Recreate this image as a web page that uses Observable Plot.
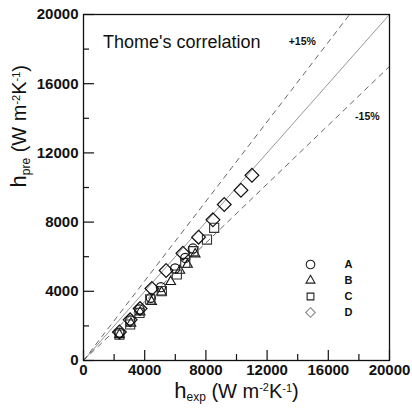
<!DOCTYPE html>
<html>
<head>
<meta charset="utf-8">
<script src="https://cdn.jsdelivr.net/npm/d3@7"></script>
<script src="https://cdn.jsdelivr.net/npm/@observablehq/plot@0.6"></script>
<style>
  body { margin: 0; background: #fff; }
  #wrap { position: relative; width: 412px; height: 412px; font-family: "Liberation Sans", Arial, sans-serif; }
  #legend { position: absolute; left: 302px; top: 253px; }
</style>
</head>
<body>
<div id="wrap"><div id="main"></div><div id="legend"></div></div>
<script>
// ---- data ----
const seriesNames = ["A", "B", "C", "D"];
const aX = [2350, 3050, 3660, 4400, 5060, 5990, 6650, 7150];
const aY = [1600, 2310, 2950, 3620, 4240, 5320, 5930, 6470];
const bX = [2350, 3100, 3700, 4450, 5100, 5700, 6300, 6800, 7300];
const bY = [1500, 2150, 2800, 3400, 3950, 4550, 5200, 5550, 6150];
const cX = [2350, 3050, 3660, 4360, 5120, 6100, 6650, 7190, 8070, 8540];
const cY = [1500, 2080, 2750, 3530, 4010, 4970, 5640, 6320, 6990, 7670];
const dX = [2350, 3050, 3700, 4470, 5400, 6500, 7520, 8460, 9200, 10290, 11010];
const dY = [1650, 2350, 3000, 4160, 5200, 6200, 7130, 8130, 9020, 9840, 10710];
const xTicks = [0, 4000, 8000, 12000, 16000, 20000];
const minorTicks = [2000, 6000, 10000, 14000, 18000];
const refLines = [
  { name: "1:1", x: [0, 20000], y: [0, 20000] },
  { name: "+15%", x: [0, 20000 / 1.15], y: [0, 20000] },
  { name: "-15%", x: [0, 20000], y: [0, 17000] }
];
const annX = [14300, 18550];
const annY = [18420, 14070];
const annText = ["+15%", "-15%"];
const titleText = "Thome's correlation";
const titleX = 1280, titleY = 18380;

// ---- build ----
const mk = (xs, ys) => xs.map((x, i) => ({ x, y: ys[i] }));
const A = mk(aX, aY), B = mk(bX, bY), C = mk(cX, cY), D = mk(dX, dY);
const line = (l) => l.x.map((x, i) => ({ x, y: l.y[i] }));
const ann = annText.map((t, i) => ({ t, x: annX[i], y: annY[i] }));

const W = 412, H = 412, mL = 83, mR = 23, mT = 14, mB = 52;
const fw = W - mL - mR, fh = H - mT - mB;
const font = "Liberation Sans, Arial, sans-serif";

const plot = Plot.plot({
  width: W, height: H,
  marginLeft: mL, marginRight: mR, marginTop: mT, marginBottom: mB,
  style: { fontFamily: font, background: "#fff", color: "#111" },
  x: { domain: [0, 20000] },
  y: { domain: [0, 20000] },
  marks: [
    Plot.line(line(refLines[0]), { x: "x", y: "y", stroke: "#8a8a8a", strokeWidth: 0.9 }),
    Plot.line(line(refLines[1]), { x: "x", y: "y", stroke: "#555", strokeWidth: 0.9, strokeDasharray: "5,5" }),
    Plot.line(line(refLines[2]), { x: "x", y: "y", stroke: "#555", strokeWidth: 0.9, strokeDasharray: "5,5" }),
    Plot.tickX(xTicks, { x: d => d, stroke: "#111", strokeWidth: 1.2, insetTop: fh - 10 }),
    Plot.tickX(minorTicks, { x: d => d, stroke: "#111", strokeWidth: 1.2, insetTop: fh - 6 }),
    Plot.tickY(xTicks, { y: d => d, stroke: "#111", strokeWidth: 1.2, insetRight: fw - 11 }),
    Plot.tickY(minorTicks, { y: d => d, stroke: "#111", strokeWidth: 1.2, insetRight: fw - 6 }),
    Plot.axisX({ ticks: xTicks, tickSize: 0, tickPadding: 4, fontSize: 15, fontWeight: "bold", tickFormat: d => String(d), label: null }),
    Plot.axisY({ ticks: xTicks, tickSize: 0, tickPadding: 5, fontSize: 15, fontWeight: "bold", tickFormat: d => String(d), label: null }),
    Plot.dot(A, { x: "x", y: "y", symbol: "circle", r: 4.6, stroke: "#111", strokeWidth: 1.2, fill: "none" }),
    Plot.dot(B, { x: "x", y: "y", symbol: "triangle2", r: 4.6, stroke: "#111", strokeWidth: 1.1, fill: "none" }),
    Plot.dot(C, { x: "x", y: "y", symbol: "square2", r: 5.8, stroke: "#333", strokeWidth: 1.1, fill: "none" }),
    Plot.dot(D, { x: "x", y: "y", symbol: "diamond2", r: 6.2, stroke: "#111", strokeWidth: 1.2, fill: "none" }),
    Plot.text(ann, { x: "x", y: "y", text: "t", fontSize: 10.5, fontWeight: "bold", fill: "#111" }),
    Plot.text([titleText], { x: () => titleX, y: () => titleY, text: d => d, textAnchor: "start", fontSize: 18, fill: "#111" }),
    Plot.text(["xt"], { frameAnchor: "bottom", dy: 37, text: d => d, fontSize: 20, className: "xtitle" }),
    Plot.text(["yt"], { frameAnchor: "left", dx: -64, rotate: -90, text: d => d, fontSize: 20, className: "ytitle" }),
    Plot.frame({ stroke: "#111", strokeWidth: 1.3 })
  ]
});
document.getElementById("main").appendChild(plot);

// axis titles with sub/superscripts
function richTitle(sel, sub) {
  const t = d3.select(plot).select(sel + " text");
  t.text(null).attr("fill", "#111");
  t.append("tspan").attr("font-size", 22).text("h");
  t.append("tspan").attr("font-size", 12).attr("dy", "0.3em").text(sub);
  t.append("tspan").attr("font-size", 20).attr("dy", "-0.18em").text(" (W m");
  t.append("tspan").attr("font-size", 11).attr("dy", "-0.55em").text("-2");
  t.append("tspan").attr("font-size", 20).attr("dy", "0.32em").text("K");
  t.append("tspan").attr("font-size", 11).attr("dy", "-0.55em").text("-1");
  t.append("tspan").attr("font-size", 20).attr("dy", "0.32em").text(")");
}
richTitle(".xtitle", "exp");
richTitle(".ytitle", "pre");

// legend
const legend = Plot.plot({
  width: 70, height: 70, margin: 0,
  style: { fontFamily: font, background: "transparent" },
  x: { type: "point", domain: ["sym", "lab"], range: [8, 46], padding: 0, axis: null },
  y: { type: "point", domain: seriesNames, range: [10, 60], padding: 0, axis: null },
  symbol: { domain: seriesNames, range: ["circle", "triangle2", "square2", "diamond2"] },
  marks: [
    Plot.dot(seriesNames, { x: () => "sym", y: d => d, symbol: d => d, r: 4.3, stroke: d => d === "D" ? "#888" : "#222", strokeWidth: 1.1, fill: "none" }),
    Plot.text(seriesNames, { x: () => "lab", y: d => d, text: d => d, fontSize: 11, fontWeight: "bold", fill: "#111" })
  ]
});
document.getElementById("legend").appendChild(legend);
</script>
</body>
</html>
